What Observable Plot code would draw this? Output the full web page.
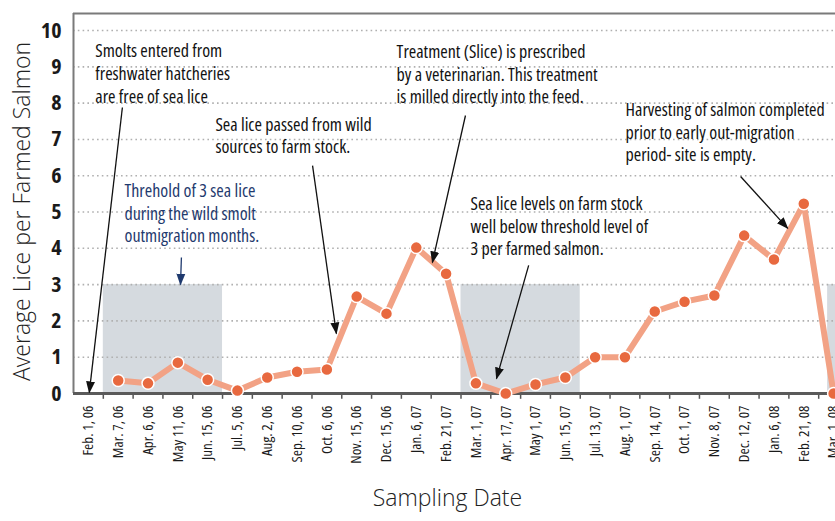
<!DOCTYPE html>
<html>
<head>
<meta charset="utf-8">
<script src="https://cdn.jsdelivr.net/npm/d3@7"></script>
<script src="https://cdn.jsdelivr.net/npm/@observablehq/plot@0.6"></script>
<style>
  html, body { margin: 0; padding: 0; background: #fff; }
  #chart svg { font-family: "Open Sans", "Liberation Sans Narrow", sans-serif; font-stretch: 75%; }
</style>
</head>
<body>
<div id="chart"></div>
<script>
// ---- data ----
const dates = ["Feb. 1, 06","Mar. 7, 06","Apr. 6, 06","May 11, 06","Jun. 15, 06","Jul. 5, 06","Aug. 2, 06","Sep. 10, 06","Oct. 6, 06","Nov. 15, 06","Dec. 15, 06","Jan. 6, 07","Feb. 21, 07","Mar. 1, 07","Apr. 17, 07","May 1, 07","Jun. 15, 07","Jul. 13, 07","Aug. 1, 07","Sep. 14, 07","Oct. 1, 07","Nov. 8, 07","Dec. 12, 07","Jan. 6, 08","Feb. 21, 08","Mar. 1, 08"];
const lice = [null,0.36,0.28,0.85,0.38,0.08,0.44,0.6,0.66,2.67,2.2,4.02,3.3,0.28,0,0.25,0.44,1.0,1.0,2.26,2.53,2.7,4.35,3.69,5.23,0];
const yTicks = [0,1,2,3,4,5,6,7,8,9,10];
const yTitle = "Average Lice per Farmed Salmon";
const xTitle = "Sampling Date";
// threshold periods (in category index units) and threshold level
const threshStart = [0.5, 12.5, 24.8];
const threshEnd = [4.5, 16.5, 26];
const threshold = 3;
// annotations
const noteText = [
  "Smolts entered from\nfreshwater hatcheries\nare free of sea lice",
  "Sea lice passed from wild\nsources to farm stock.",
  "Treatment (Slice) is prescribed\nby a veterinarian. This treatment\nis milled directly into the feed.",
  "Harvesting of salmon completed\nprior to early out-migration\nperiod- site is empty.",
  "Sea lice levels on farm stock\nwell below threshold level of\n3 per farmed salmon.",
  "Threhold of 3 sea lice\nduring the wild smolt\noutmigration months."
];
const noteX = [0.23, 4.26, 10.34, 18.02, 12.82, 1.21];
const noteY = [9.72, 7.69, 9.70, 8.10, 5.51, 5.87];
const noteColor = ["#111","#111","#111","#111","#111","#1f3a6e"];
const arrowX1 = [1.14, 7.52, 12.65, 21.88, 14.77, 3.12];
const arrowY1 = [7.88, 6.28, 7.66, 5.98, 3.53, 3.75];
const arrowX2 = [0.03, 8.32, 11.54, 23.46, 13.69, 3.09];
const arrowY2 = [0.03, 1.65, 3.61, 4.55, 0.41, 3.0];

// ---- build ----
const idx = dates.map((d, i) => i);
const series = idx.map(i => ({i, v: lice[i]}));
const bands = threshStart.map((s, k) => ({x1: s, x2: threshEnd[k], y1: 0, y2: threshold}));
const notes = noteText.map((t, k) => ({t, x: noteX[k], y: noteY[k], c: noteColor[k]}));
const arrows = arrowX1.map((x, k) => ({x1: x, y1: arrowY1[k], x2: arrowX2[k], y2: arrowY2[k], c: noteColor[k]}));
const boundaries = idx.slice(1).map(i => i - 0.5);
const yMax = 10.47;

const plot = Plot.plot({
  width: 835,
  height: 521,
  marginLeft: 73,
  marginTop: 13,
  marginBottom: 128,
  marginRight: 0,
  x: {type: "linear", domain: [-0.5, 25.5], range: [73, 848]},
  y: {type: "linear", domain: [0, yMax]},
  marks: [
    Plot.rect(bands, {x1: "x1", x2: "x2", y1: "y1", y2: "y2", fill: "#d5dadf"}),
    Plot.ruleY(yTicks.slice(1), {stroke: "#b0b0b0", strokeWidth: 1.6, strokeDasharray: "1.6,3.2"}),
    Plot.ruleY([yMax], {stroke: "#7a7a7a", strokeWidth: 2}),
    Plot.ruleX([-0.5], {y1: 0, y2: yMax, stroke: "#7a7a7a", strokeWidth: 2}),
    Plot.ruleX(boundaries, {y1: 0, y2: -0.16, stroke: "#555", strokeWidth: 1.5}),
    Plot.ruleY([0], {stroke: "#5a5a5a", strokeWidth: 3}),
    Plot.axisY(yTicks, {tickSize: 0, tickPadding: 12, fontSize: 22, fontWeight: "bold", fill: "#1a1a1a", label: null}),
    Plot.axisX(idx, {tickSize: 0, tickRotate: -90, tickPadding: 12, fontSize: 15, fontWeight: 500, fill: "#1a1a1a", tickFormat: i => dates[i], label: null}),
    Plot.text([yTitle], {frameAnchor: "left", textAnchor: "middle", rotate: -90, dx: -51, dy: 8, fontSize: 23, fontWeight: 300, fill: "#222"}),
    Plot.text([xTitle], {frameAnchor: "bottom", textAnchor: "middle", dx: -7, dy: 112, fontSize: 23, fontWeight: 300, fill: "#222"}),
    Plot.line(series, {x: "i", y: "v", stroke: "#f2a285", strokeWidth: 6}),
    Plot.dot(series.filter(d => d.v != null), {x: "i", y: "v", r: 6, fill: "#e8693f", stroke: "white", strokeWidth: 1.5}),
    Plot.link(arrows, {x1: "x1", y1: "y1", x2: "x2", y2: "y2", stroke: "c", strokeWidth: 1.3, markerEnd: "arrow"}),
    Plot.text(notes, {x: "x", y: "y", text: "t", fill: "c", textAnchor: "start", lineAnchor: "top", fontSize: 18, fontWeight: 500, lineHeight: 1.27})
  ]
});

// axis titles in a wider face
d3.select(plot).selectAll("text")
  .filter(function() { return this.textContent === yTitle || this.textContent === xTitle; })
  .style("font-stretch", "100%");

// filled arrowheads
d3.select(plot).selectAll("marker")
  .attr("viewBox", "-11 -6 12 12")
  .attr("markerUnits", "userSpaceOnUse")
  .attr("markerWidth", 12)
  .attr("markerHeight", 12)
  .each(function() {
    const m = d3.select(this);
    const col = m.attr("stroke");
    m.attr("fill", col).attr("stroke", "none");
    m.select("path").attr("d", "M-11,-4.5L1,0L-11,4.5Z");
  });

document.getElementById("chart").append(plot);
</script>
</body>
</html>
